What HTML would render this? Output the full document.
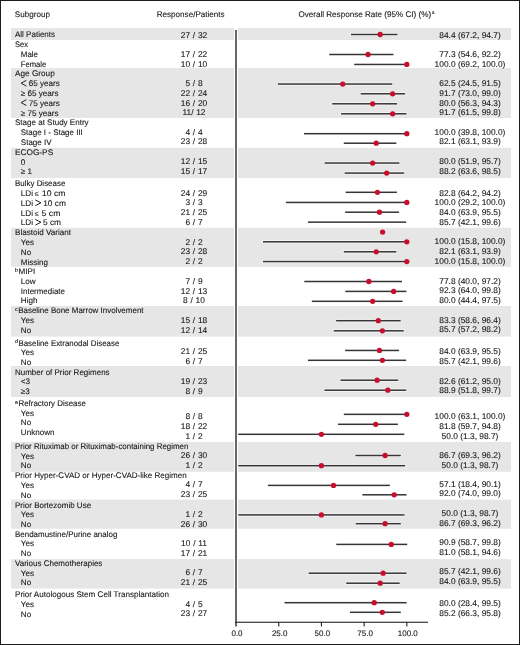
<!DOCTYPE html>
<html><head><meta charset="utf-8"><title>Forest plot</title>
<style>
html,body{margin:0;padding:0;background:#fff;}
body{width:520px;height:645px;overflow:hidden;}
svg{display:block;font-family:"Liberation Sans",sans-serif;text-rendering:geometricPrecision;}
</style></head><body>
<svg width="520" height="645" viewBox="0 0 520 645">
<defs><filter id="bl" x="0" y="0" width="1" height="1"><feGaussianBlur stdDeviation="0.4"/></filter></defs><g filter="url(#bl)">
<rect x="0" y="0" width="520" height="645" fill="#fff"/>
<style>text{stroke:#161616;stroke-width:0.1px;}</style>
<rect x="11" y="28" width="223" height="12.00" fill="#e6e6e6"/>
<rect x="238" y="28" width="273" height="12.00" fill="#e6e6e6"/>
<rect x="11" y="68.1" width="223" height="49.80" fill="#e6e6e6"/>
<rect x="238" y="68.1" width="273" height="49.80" fill="#e6e6e6"/>
<rect x="11" y="147.8" width="223" height="30.30" fill="#e6e6e6"/>
<rect x="238" y="147.8" width="273" height="30.30" fill="#e6e6e6"/>
<rect x="11" y="227.75" width="223" height="39.15" fill="#e6e6e6"/>
<rect x="238" y="227.75" width="273" height="39.15" fill="#e6e6e6"/>
<rect x="11" y="306" width="223" height="30.60" fill="#e6e6e6"/>
<rect x="238" y="306" width="273" height="30.60" fill="#e6e6e6"/>
<rect x="11" y="366" width="223" height="31.00" fill="#e6e6e6"/>
<rect x="238" y="366" width="273" height="31.00" fill="#e6e6e6"/>
<rect x="11" y="441.9" width="223" height="29.90" fill="#e6e6e6"/>
<rect x="238" y="441.9" width="273" height="29.90" fill="#e6e6e6"/>
<rect x="11" y="499.6" width="223" height="29.15" fill="#e6e6e6"/>
<rect x="238" y="499.6" width="273" height="29.15" fill="#e6e6e6"/>
<rect x="11" y="559.1" width="223" height="29.50" fill="#e6e6e6"/>
<rect x="238" y="559.1" width="273" height="29.50" fill="#e6e6e6"/>
<rect x="235" y="30" width="2" height="596.5" fill="#686868"/>
<rect x="235" y="621.7" width="193" height="1.1" fill="#262626"/>
<text x="237.00" y="636" font-size="8.0" text-anchor="middle" fill="#161616">0.0</text>
<rect x="278.20" y="622" width="1.1" height="4.5" fill="#222"/>
<text x="279.70" y="636" font-size="8.0" text-anchor="middle" fill="#161616">25.0</text>
<rect x="320.90" y="622" width="1.1" height="4.5" fill="#222"/>
<text x="322.40" y="636" font-size="8.0" text-anchor="middle" fill="#161616">50.0</text>
<rect x="363.60" y="622" width="1.1" height="4.5" fill="#222"/>
<text x="365.10" y="636" font-size="8.0" text-anchor="middle" fill="#161616">75.0</text>
<rect x="406.30" y="622" width="1.1" height="4.5" fill="#222"/>
<text x="407.80" y="636" font-size="8.0" text-anchor="middle" fill="#161616">100.0</text>
<text x="14.8" y="17" font-size="8.1" fill="#161616">Subgroup</text>
<text x="190.7" y="17.3" font-size="8.1" text-anchor="middle" fill="#161616">Response/Patients</text>
<text x="298.4" y="16.8" font-size="8.1" fill="#161616">Overall Response Rate (95% CI) (%)<tspan font-size="4.8" dy="-2.3" dx="0.6">a</tspan></text>
<text x="15.0" y="37.4" font-size="8.1" fill="#161616" textLength="40.05" lengthAdjust="spacingAndGlyphs">All Patients</text>
<text x="194.0" y="37.65" font-size="8.4" text-anchor="middle" fill="#161616" word-spacing="0.4">27 / 32</text>
<text x="470.0" y="37.5" font-size="8.4" text-anchor="middle" fill="#161616">84.4 (67.2, 94.7)</text>
<rect x="350.40" y="32.95" width="47.70" height="3.1" fill="#fff" opacity="0.7"/>
<rect x="351.00" y="33.75" width="46.50" height="1.5" fill="#353535"/>
<circle cx="380.16" cy="34.50" r="2.65" fill="#c8102e"/>
<text x="15.0" y="47.3" font-size="8.1" fill="#161616" textLength="12.95" lengthAdjust="spacingAndGlyphs">Sex</text>
<text x="20.8" y="56.9" font-size="8.1" fill="#161616" textLength="17.15" lengthAdjust="spacingAndGlyphs">Male</text>
<text x="194.0" y="57" font-size="8.4" text-anchor="middle" fill="#161616" word-spacing="0.4">17 / 22</text>
<text x="470.0" y="56.9" font-size="8.4" text-anchor="middle" fill="#161616">77.3 (54.6, 92.2)</text>
<rect x="328.66" y="52.95" width="65.42" height="3.1" fill="#fff" opacity="0.7"/>
<rect x="329.26" y="53.75" width="64.22" height="1.5" fill="#353535"/>
<circle cx="368.03" cy="54.50" r="2.65" fill="#c8102e"/>
<text x="20.8" y="66.6" font-size="8.1" fill="#161616" textLength="25.55" lengthAdjust="spacingAndGlyphs">Female</text>
<text x="194.0" y="66.6" font-size="8.4" text-anchor="middle" fill="#161616" word-spacing="0.4">10 / 10</text>
<text x="470.0" y="66.6" font-size="8.4" text-anchor="middle" fill="#161616">100.0 (69.2, 100.0)</text>
<rect x="353.59" y="62.90" width="53.81" height="3.1" fill="#fff" opacity="0.7"/>
<rect x="354.19" y="63.70" width="52.61" height="1.5" fill="#353535"/>
<circle cx="406.80" cy="64.45" r="2.65" fill="#c8102e"/>
<text x="15.0" y="76.2" font-size="8.1" fill="#161616" textLength="39.75" lengthAdjust="spacingAndGlyphs">Age Group</text>
<path d="M26.40,80.30 L21.10,83.20 L26.40,86.10" fill="none" stroke="#161616" stroke-width="0.95"/>
<text x="28.8" y="86.2" font-size="8.1" fill="#161616">65 years</text>
<text x="194.0" y="86.2" font-size="8.4" text-anchor="middle" fill="#161616" word-spacing="0.4">5 / 8</text>
<text x="470.0" y="86.25" font-size="8.4" text-anchor="middle" fill="#161616">62.5 (24.5, 91.5)</text>
<rect x="277.25" y="82.50" width="115.64" height="3.1" fill="#fff" opacity="0.7"/>
<rect x="277.85" y="83.30" width="114.44" height="1.5" fill="#353535"/>
<circle cx="342.75" cy="84.05" r="2.65" fill="#c8102e"/>
<text x="20.8" y="96" font-size="8.1" fill="#161616">≥ 65 years</text>
<text x="194.0" y="95.7" font-size="8.4" text-anchor="middle" fill="#161616" word-spacing="0.4">22 / 24</text>
<text x="470.0" y="96" font-size="8.4" text-anchor="middle" fill="#161616">91.7 (73.0, 99.0)</text>
<rect x="360.08" y="92.25" width="45.61" height="3.1" fill="#fff" opacity="0.7"/>
<rect x="360.68" y="93.05" width="44.41" height="1.5" fill="#353535"/>
<circle cx="392.62" cy="93.80" r="2.65" fill="#c8102e"/>
<path d="M26.40,99.70 L21.10,102.60 L26.40,105.50" fill="none" stroke="#161616" stroke-width="0.95"/>
<text x="28.8" y="105.6" font-size="8.1" fill="#161616">75 years</text>
<text x="194.0" y="105.6" font-size="8.4" text-anchor="middle" fill="#161616" word-spacing="0.4">16 / 20</text>
<text x="470.0" y="105.6" font-size="8.4" text-anchor="middle" fill="#161616">80.0 (56.3, 94.3)</text>
<rect x="331.56" y="102.25" width="66.10" height="3.1" fill="#fff" opacity="0.7"/>
<rect x="332.16" y="103.05" width="64.90" height="1.5" fill="#353535"/>
<circle cx="372.64" cy="103.80" r="2.65" fill="#c8102e"/>
<text x="20.8" y="115.5" font-size="8.1" fill="#161616">≥ 75 years</text>
<text x="194.0" y="115.25" font-size="8.4" text-anchor="middle" fill="#161616" word-spacing="0.4">11/ 12</text>
<text x="470.0" y="115.25" font-size="8.4" text-anchor="middle" fill="#161616">91.7 (61.5, 99.8)</text>
<rect x="340.44" y="112.25" width="66.62" height="3.1" fill="#fff" opacity="0.7"/>
<rect x="341.04" y="113.05" width="65.42" height="1.5" fill="#353535"/>
<circle cx="392.62" cy="113.80" r="2.65" fill="#c8102e"/>
<text x="15.0" y="125.4" font-size="8.1" fill="#161616" textLength="73.60" lengthAdjust="spacingAndGlyphs">Stage at Study Entry</text>
<text x="20.8" y="135.1" font-size="8.1" fill="#161616" textLength="62.05" lengthAdjust="spacingAndGlyphs">Stage I - Stage III</text>
<text x="194.0" y="134.75" font-size="8.4" text-anchor="middle" fill="#161616" word-spacing="0.4">4 / 4</text>
<text x="470.0" y="134.75" font-size="8.4" text-anchor="middle" fill="#161616">100.0 (39.8, 100.0)</text>
<rect x="303.38" y="132.15" width="104.02" height="3.1" fill="#fff" opacity="0.7"/>
<rect x="303.98" y="132.95" width="102.82" height="1.5" fill="#353535"/>
<circle cx="406.80" cy="133.70" r="2.65" fill="#c8102e"/>
<text x="20.8" y="144.7" font-size="8.1" fill="#161616" textLength="30.80" lengthAdjust="spacingAndGlyphs">Stage IV</text>
<text x="194.0" y="144.4" font-size="8.4" text-anchor="middle" fill="#161616" word-spacing="0.4">23 / 28</text>
<text x="470.0" y="144.4" font-size="8.4" text-anchor="middle" fill="#161616">82.1 (63.1, 93.9)</text>
<rect x="343.17" y="141.65" width="53.81" height="3.1" fill="#fff" opacity="0.7"/>
<rect x="343.77" y="142.45" width="52.61" height="1.5" fill="#353535"/>
<circle cx="376.23" cy="143.20" r="2.65" fill="#c8102e"/>
<text x="15.0" y="154.6" font-size="8.1" fill="#161616" textLength="38.15" lengthAdjust="spacingAndGlyphs">ECOG-PS</text>
<text x="20.8" y="164.5" font-size="8.1" fill="#161616">0</text>
<text x="194.0" y="163.9" font-size="8.4" text-anchor="middle" fill="#161616" word-spacing="0.4">12 / 15</text>
<text x="470.0" y="164.2" font-size="8.4" text-anchor="middle" fill="#161616">80.0 (51.9, 95.7)</text>
<rect x="324.05" y="161.50" width="76.01" height="3.1" fill="#fff" opacity="0.7"/>
<rect x="324.65" y="162.30" width="74.81" height="1.5" fill="#353535"/>
<circle cx="372.64" cy="163.05" r="2.65" fill="#c8102e"/>
<text x="20.8" y="174.2" font-size="8.1" fill="#161616">≥ 1</text>
<text x="194.0" y="173.8" font-size="8.4" text-anchor="middle" fill="#161616" word-spacing="0.4">15 / 17</text>
<text x="470.0" y="173.9" font-size="8.4" text-anchor="middle" fill="#161616">88.2 (63.6, 98.5)</text>
<rect x="344.03" y="171.55" width="60.81" height="3.1" fill="#fff" opacity="0.7"/>
<rect x="344.63" y="172.35" width="59.61" height="1.5" fill="#353535"/>
<circle cx="386.65" cy="173.10" r="2.65" fill="#c8102e"/>
<text x="15.0" y="186.4" font-size="8.1" fill="#161616" textLength="50.35" lengthAdjust="spacingAndGlyphs">Bulky Disease</text>
<text x="20.8" y="196.1" font-size="8.1" fill="#161616">LDi</text>
<text x="34.78" y="196.1" font-size="7" fill="#161616">≤</text>
<text x="41.9" y="196.1" font-size="8.1" fill="#161616" textLength="23.50" lengthAdjust="spacingAndGlyphs">10 cm</text>
<text x="194.0" y="195.9" font-size="8.4" text-anchor="middle" fill="#161616" word-spacing="0.4">24 / 29</text>
<text x="470.0" y="195.6" font-size="8.4" text-anchor="middle" fill="#161616">82.8 (64.2, 94.2)</text>
<rect x="345.05" y="190.75" width="52.44" height="3.1" fill="#fff" opacity="0.7"/>
<rect x="345.65" y="191.55" width="51.24" height="1.5" fill="#353535"/>
<circle cx="377.42" cy="192.30" r="2.65" fill="#c8102e"/>
<text x="20.8" y="205.8" font-size="8.1" fill="#161616">LDi</text>
<path d="M35.30,199.90 L40.90,202.80 L35.30,205.70" fill="none" stroke="#161616" stroke-width="0.95"/>
<text x="43.2" y="205.8" font-size="8.1" fill="#161616" textLength="22.70" lengthAdjust="spacingAndGlyphs">10 cm</text>
<text x="194.0" y="205.4" font-size="8.4" text-anchor="middle" fill="#161616" word-spacing="0.4">3 / 3</text>
<text x="470.0" y="205.4" font-size="8.4" text-anchor="middle" fill="#161616">100.0 (29.2, 100.0)</text>
<rect x="285.27" y="200.90" width="122.13" height="3.1" fill="#fff" opacity="0.7"/>
<rect x="285.87" y="201.70" width="120.93" height="1.5" fill="#353535"/>
<circle cx="406.80" cy="202.45" r="2.65" fill="#c8102e"/>
<text x="20.8" y="215.6" font-size="8.1" fill="#161616">LDi</text>
<text x="34.78" y="215.6" font-size="7" fill="#161616">≤</text>
<text x="41.5" y="215.6" font-size="8.1" fill="#161616" textLength="18.90" lengthAdjust="spacingAndGlyphs">5 cm</text>
<text x="194.0" y="215.4" font-size="8.4" text-anchor="middle" fill="#161616" word-spacing="0.4">21 / 25</text>
<text x="470.0" y="215" font-size="8.4" text-anchor="middle" fill="#161616">84.0 (63.9, 95.5)</text>
<rect x="344.54" y="210.65" width="55.17" height="3.1" fill="#fff" opacity="0.7"/>
<rect x="345.14" y="211.45" width="53.97" height="1.5" fill="#353535"/>
<circle cx="379.47" cy="212.20" r="2.65" fill="#c8102e"/>
<text x="20.8" y="225.25" font-size="8.1" fill="#161616">LDi</text>
<path d="M35.30,219.35 L40.90,222.25 L35.30,225.15" fill="none" stroke="#161616" stroke-width="0.95"/>
<text x="42.9" y="225.25" font-size="8.1" fill="#161616" textLength="18.20" lengthAdjust="spacingAndGlyphs">5 cm</text>
<text x="194.0" y="224.9" font-size="8.4" text-anchor="middle" fill="#161616" word-spacing="0.4">6 / 7</text>
<text x="470.0" y="224.75" font-size="8.4" text-anchor="middle" fill="#161616">85.7 (42.1, 99.6)</text>
<rect x="307.31" y="220.60" width="99.41" height="3.1" fill="#fff" opacity="0.7"/>
<rect x="307.91" y="221.40" width="98.21" height="1.5" fill="#353535"/>
<text x="15.0" y="235.2" font-size="8.1" fill="#161616" textLength="56.10" lengthAdjust="spacingAndGlyphs">Blastoid Variant</text>
<circle cx="382.6" cy="232.10" r="2.65" fill="#c8102e"/>
<text x="20.8" y="244.85" font-size="8.1" fill="#161616">Yes</text>
<text x="194.0" y="244.75" font-size="8.4" text-anchor="middle" fill="#161616" word-spacing="0.4">2 / 2</text>
<text x="470.0" y="244.4" font-size="8.4" text-anchor="middle" fill="#161616">100.0 (15.8, 100.0)</text>
<rect x="262.39" y="240.25" width="145.01" height="3.1" fill="#fff" opacity="0.7"/>
<rect x="262.99" y="241.05" width="143.81" height="1.5" fill="#353535"/>
<circle cx="406.80" cy="241.80" r="2.65" fill="#c8102e"/>
<text x="20.8" y="254.55" font-size="8.1" fill="#161616">No</text>
<text x="194.0" y="254.4" font-size="8.4" text-anchor="middle" fill="#161616" word-spacing="0.4">23 / 28</text>
<text x="470.0" y="254.1" font-size="8.4" text-anchor="middle" fill="#161616">82.1 (63.1, 93.9)</text>
<rect x="343.17" y="250.25" width="53.81" height="3.1" fill="#fff" opacity="0.7"/>
<rect x="343.77" y="251.05" width="52.61" height="1.5" fill="#353535"/>
<circle cx="376.23" cy="251.80" r="2.65" fill="#c8102e"/>
<text x="20.8" y="264.5" font-size="8.1" fill="#161616" textLength="27.05" lengthAdjust="spacingAndGlyphs">Missing</text>
<text x="194.0" y="264.3" font-size="8.4" text-anchor="middle" fill="#161616" word-spacing="0.4">2 / 2</text>
<text x="470.0" y="264.4" font-size="8.4" text-anchor="middle" fill="#161616">100.0 (15.8, 100.0)</text>
<rect x="262.39" y="260.00" width="145.01" height="3.1" fill="#fff" opacity="0.7"/>
<rect x="262.99" y="260.80" width="143.81" height="1.5" fill="#353535"/>
<circle cx="406.80" cy="261.55" r="2.65" fill="#c8102e"/>
<text x="15.0" y="274.2" font-size="8.1" fill="#161616"><tspan font-size="5.4" dy="-2.1" style="stroke-width:0.12px">b</tspan><tspan dy="2.1" dx="0.5">MIPI</tspan></text>
<text x="20.8" y="283.9" font-size="8.1" fill="#161616">Low</text>
<text x="194.0" y="283.8" font-size="8.4" text-anchor="middle" fill="#161616" word-spacing="0.4">7 / 9</text>
<text x="470.0" y="283.75" font-size="8.4" text-anchor="middle" fill="#161616">77.8 (40.0, 97.2)</text>
<rect x="303.72" y="279.95" width="98.90" height="3.1" fill="#fff" opacity="0.7"/>
<rect x="304.32" y="280.75" width="97.70" height="1.5" fill="#353535"/>
<circle cx="368.88" cy="281.50" r="2.65" fill="#c8102e"/>
<text x="20.8" y="293.7" font-size="8.1" fill="#161616" textLength="44.15" lengthAdjust="spacingAndGlyphs">Intermediate</text>
<text x="194.0" y="293.5" font-size="8.4" text-anchor="middle" fill="#161616" word-spacing="0.4">12 / 13</text>
<text x="470.0" y="293.4" font-size="8.4" text-anchor="middle" fill="#161616">92.3 (64.0, 99.8)</text>
<rect x="344.71" y="289.85" width="62.35" height="3.1" fill="#fff" opacity="0.7"/>
<rect x="345.31" y="290.65" width="61.15" height="1.5" fill="#353535"/>
<circle cx="393.65" cy="291.40" r="2.65" fill="#c8102e"/>
<text x="20.8" y="303.35" font-size="8.1" fill="#161616">High</text>
<text x="194.0" y="303.1" font-size="8.4" text-anchor="middle" fill="#161616" word-spacing="0.4">8 / 10</text>
<text x="470.0" y="303.1" font-size="8.4" text-anchor="middle" fill="#161616">80.0 (44.4, 97.5)</text>
<rect x="311.24" y="299.75" width="91.89" height="3.1" fill="#fff" opacity="0.7"/>
<rect x="311.84" y="300.55" width="90.69" height="1.5" fill="#353535"/>
<circle cx="372.64" cy="301.30" r="2.65" fill="#c8102e"/>
<text x="15.0" y="313.3" font-size="8.1" fill="#161616" textLength="128.55" lengthAdjust="spacingAndGlyphs"><tspan font-size="5.4" dy="-2.1" style="stroke-width:0.12px">c</tspan><tspan dy="2.1" dx="0.5">Baseline Bone Marrow Involvement</tspan></text>
<text x="20.8" y="323" font-size="8.1" fill="#161616">Yes</text>
<text x="194.0" y="322.6" font-size="8.4" text-anchor="middle" fill="#161616" word-spacing="0.4">15 / 18</text>
<text x="470.0" y="322.5" font-size="8.4" text-anchor="middle" fill="#161616">83.3 (58.6, 96.4)</text>
<rect x="335.49" y="319.15" width="65.76" height="3.1" fill="#fff" opacity="0.7"/>
<rect x="336.09" y="319.95" width="64.56" height="1.5" fill="#353535"/>
<circle cx="378.28" cy="320.70" r="2.65" fill="#c8102e"/>
<text x="20.8" y="333" font-size="8.1" fill="#161616">No</text>
<text x="194.0" y="332.5" font-size="8.4" text-anchor="middle" fill="#161616" word-spacing="0.4">12 / 14</text>
<text x="470.0" y="332.1" font-size="8.4" text-anchor="middle" fill="#161616">85.7 (57.2, 98.2)</text>
<rect x="333.10" y="329.25" width="71.23" height="3.1" fill="#fff" opacity="0.7"/>
<rect x="333.70" y="330.05" width="70.03" height="1.5" fill="#353535"/>
<circle cx="382.38" cy="330.80" r="2.65" fill="#c8102e"/>
<text x="15.0" y="345.5" font-size="8.1" fill="#161616" textLength="104.35" lengthAdjust="spacingAndGlyphs"><tspan font-size="5.4" dy="-2.1" style="stroke-width:0.12px">d</tspan><tspan dy="2.1" dx="0.5">Baseline Extranodal Disease</tspan></text>
<text x="20.8" y="355.1" font-size="8.1" fill="#161616">Yes</text>
<text x="194.0" y="354.4" font-size="8.4" text-anchor="middle" fill="#161616" word-spacing="0.4">21 / 25</text>
<text x="470.0" y="354" font-size="8.4" text-anchor="middle" fill="#161616">84.0 (63.9, 95.5)</text>
<rect x="344.54" y="348.90" width="55.17" height="3.1" fill="#fff" opacity="0.7"/>
<rect x="345.14" y="349.70" width="53.97" height="1.5" fill="#353535"/>
<circle cx="379.47" cy="350.45" r="2.65" fill="#c8102e"/>
<text x="20.8" y="364.7" font-size="8.1" fill="#161616">No</text>
<text x="194.0" y="364.1" font-size="8.4" text-anchor="middle" fill="#161616" word-spacing="0.4">6 / 7</text>
<text x="470.0" y="363.75" font-size="8.4" text-anchor="middle" fill="#161616">85.7 (42.1, 99.6)</text>
<rect x="307.31" y="358.75" width="99.41" height="3.1" fill="#fff" opacity="0.7"/>
<rect x="307.91" y="359.55" width="98.21" height="1.5" fill="#353535"/>
<circle cx="382.38" cy="360.30" r="2.65" fill="#c8102e"/>
<text x="15.0" y="374.6" font-size="8.1" fill="#161616" textLength="94.60" lengthAdjust="spacingAndGlyphs">Number of Prior Regimens</text>
<text x="20.8" y="384.3" font-size="8.1" fill="#161616">&lt;3</text>
<text x="194.0" y="384.2" font-size="8.4" text-anchor="middle" fill="#161616" word-spacing="0.4">19 / 23</text>
<text x="470.0" y="383.5" font-size="8.4" text-anchor="middle" fill="#161616">82.6 (61.2, 95.0)</text>
<rect x="339.93" y="378.65" width="58.93" height="3.1" fill="#fff" opacity="0.7"/>
<rect x="340.53" y="379.45" width="57.73" height="1.5" fill="#353535"/>
<circle cx="377.08" cy="380.20" r="2.65" fill="#c8102e"/>
<text x="20.8" y="394.1" font-size="8.1" fill="#161616">≥3</text>
<text x="194.0" y="393.9" font-size="8.4" text-anchor="middle" fill="#161616" word-spacing="0.4">8 / 9</text>
<text x="470.0" y="393.1" font-size="8.4" text-anchor="middle" fill="#161616">88.9 (51.8, 99.7)</text>
<rect x="323.87" y="388.65" width="83.01" height="3.1" fill="#fff" opacity="0.7"/>
<rect x="324.47" y="389.45" width="81.81" height="1.5" fill="#353535"/>
<circle cx="387.84" cy="390.20" r="2.65" fill="#c8102e"/>
<text x="15.0" y="405.6" font-size="8.1" fill="#161616" textLength="70.85" lengthAdjust="spacingAndGlyphs"><tspan font-size="5.4" dy="-2.1" style="stroke-width:0.12px">e</tspan><tspan dy="2.1" dx="0.5">Refractory Disease</tspan></text>
<text x="20.8" y="415.5" font-size="8.1" fill="#161616">Yes</text>
<text x="194.0" y="418.9" font-size="8.4" text-anchor="middle" fill="#161616" word-spacing="0.4">8 / 8</text>
<text x="470.0" y="419.4" font-size="8.4" text-anchor="middle" fill="#161616">100.0 (63.1, 100.0)</text>
<rect x="343.17" y="412.80" width="64.23" height="3.1" fill="#fff" opacity="0.7"/>
<rect x="343.77" y="413.60" width="63.03" height="1.5" fill="#353535"/>
<circle cx="406.80" cy="414.35" r="2.65" fill="#c8102e"/>
<text x="20.8" y="425.2" font-size="8.1" fill="#161616">No</text>
<text x="194.0" y="428.8" font-size="8.4" text-anchor="middle" fill="#161616" word-spacing="0.4">18 / 22</text>
<text x="470.0" y="429" font-size="8.4" text-anchor="middle" fill="#161616">81.8 (59.7, 94.8)</text>
<rect x="337.37" y="422.75" width="61.15" height="3.1" fill="#fff" opacity="0.7"/>
<rect x="337.97" y="423.55" width="59.95" height="1.5" fill="#353535"/>
<circle cx="375.71" cy="424.30" r="2.65" fill="#c8102e"/>
<text x="20.8" y="435" font-size="8.1" fill="#161616">Unknown</text>
<text x="194.0" y="438.5" font-size="8.4" text-anchor="middle" fill="#161616" word-spacing="0.4">1 / 2</text>
<text x="470.0" y="438.75" font-size="8.4" text-anchor="middle" fill="#161616">50.0 (1.3, 98.7)</text>
<rect x="237.62" y="432.75" width="167.28" height="3.1" fill="#fff" opacity="0.7"/>
<rect x="238.22" y="433.55" width="166.08" height="1.5" fill="#353535"/>
<circle cx="321.40" cy="434.30" r="2.65" fill="#c8102e"/>
<text x="15.0" y="448.75" font-size="8.1" fill="#161616" textLength="173.35" lengthAdjust="spacingAndGlyphs">Prior Rituximab or Rituximab-containing Regimen</text>
<text x="20.8" y="458.6" font-size="8.1" fill="#161616">Yes</text>
<text x="194.0" y="458.4" font-size="8.4" text-anchor="middle" fill="#161616" word-spacing="0.4">26 / 30</text>
<text x="470.0" y="458.1" font-size="8.4" text-anchor="middle" fill="#161616">86.7 (69.3, 96.2)</text>
<rect x="354.80" y="453.95" width="46.60" height="3.1" fill="#fff" opacity="0.7"/>
<rect x="355.40" y="454.75" width="45.40" height="1.5" fill="#353535"/>
<circle cx="385.10" cy="455.50" r="2.65" fill="#c8102e"/>
<text x="20.8" y="468.2" font-size="8.1" fill="#161616">No</text>
<text x="194.0" y="468" font-size="8.4" text-anchor="middle" fill="#161616" word-spacing="0.4">1 / 2</text>
<text x="470.0" y="467.5" font-size="8.4" text-anchor="middle" fill="#161616">50.0 (1.3, 98.7)</text>
<rect x="237.62" y="464.15" width="168.08" height="3.1" fill="#fff" opacity="0.7"/>
<rect x="238.22" y="464.95" width="166.88" height="1.5" fill="#353535"/>
<circle cx="321.40" cy="465.70" r="2.65" fill="#c8102e"/>
<text x="15.0" y="478" font-size="8.1" fill="#161616" textLength="171.75" lengthAdjust="spacingAndGlyphs">Prior Hyper-CVAD or Hyper-CVAD-like Regimen</text>
<text x="20.8" y="488" font-size="8.1" fill="#161616">Yes</text>
<text x="194.0" y="487.4" font-size="8.4" text-anchor="middle" fill="#161616" word-spacing="0.4">4 / 7</text>
<text x="470.0" y="486.9" font-size="8.4" text-anchor="middle" fill="#161616">57.1 (18.4, 90.1)</text>
<rect x="267.30" y="483.85" width="123.19" height="3.1" fill="#fff" opacity="0.7"/>
<rect x="267.90" y="484.65" width="121.99" height="1.5" fill="#353535"/>
<circle cx="333.53" cy="485.40" r="2.65" fill="#c8102e"/>
<text x="20.8" y="497.7" font-size="8.1" fill="#161616">No</text>
<text x="194.0" y="497.1" font-size="8.4" text-anchor="middle" fill="#161616" word-spacing="0.4">23 / 25</text>
<text x="470.0" y="496.25" font-size="8.4" text-anchor="middle" fill="#161616">92.0 (74.0, 99.0)</text>
<rect x="361.79" y="493.25" width="45.41" height="3.1" fill="#fff" opacity="0.7"/>
<rect x="362.39" y="494.05" width="44.21" height="1.5" fill="#353535"/>
<circle cx="394.20" cy="494.80" r="2.65" fill="#c8102e"/>
<text x="15.0" y="507.5" font-size="8.1" fill="#161616" textLength="76.10" lengthAdjust="spacingAndGlyphs">Prior Bortezomib Use</text>
<text x="20.8" y="517.1" font-size="8.1" fill="#161616">Yes</text>
<text x="194.0" y="517" font-size="8.4" text-anchor="middle" fill="#161616" word-spacing="0.4">1 / 2</text>
<text x="470.0" y="516" font-size="8.4" text-anchor="middle" fill="#161616">50.0 (1.3, 98.7)</text>
<rect x="237.62" y="513.35" width="167.56" height="3.1" fill="#fff" opacity="0.7"/>
<rect x="238.22" y="514.15" width="166.36" height="1.5" fill="#353535"/>
<circle cx="321.40" cy="514.90" r="2.65" fill="#c8102e"/>
<text x="20.8" y="526.8" font-size="8.1" fill="#161616">No</text>
<text x="194.0" y="526.5" font-size="8.4" text-anchor="middle" fill="#161616" word-spacing="0.4">26 / 30</text>
<text x="470.0" y="525.6" font-size="8.4" text-anchor="middle" fill="#161616">86.7 (69.3, 96.2)</text>
<rect x="355.10" y="522.15" width="46.30" height="3.1" fill="#fff" opacity="0.7"/>
<rect x="355.70" y="522.95" width="45.10" height="1.5" fill="#353535"/>
<circle cx="385.10" cy="523.70" r="2.65" fill="#c8102e"/>
<text x="15.0" y="536.6" font-size="8.1" fill="#161616" textLength="102.35" lengthAdjust="spacingAndGlyphs">Bendamustine/Purine analog</text>
<text x="20.8" y="546.3" font-size="8.1" fill="#161616">Yes</text>
<text x="194.0" y="546" font-size="8.4" text-anchor="middle" fill="#161616" word-spacing="0.4">10 / 11</text>
<text x="470.0" y="545" font-size="8.4" text-anchor="middle" fill="#161616">90.9 (58.7, 99.8)</text>
<rect x="335.66" y="542.85" width="72.14" height="3.1" fill="#fff" opacity="0.7"/>
<rect x="336.26" y="543.65" width="70.94" height="1.5" fill="#353535"/>
<circle cx="391.26" cy="544.40" r="2.65" fill="#c8102e"/>
<text x="20.8" y="556.4" font-size="8.1" fill="#161616">No</text>
<text x="194.0" y="555.85" font-size="8.4" text-anchor="middle" fill="#161616" word-spacing="0.4">17 / 21</text>
<text x="470.0" y="554.7" font-size="8.4" text-anchor="middle" fill="#161616">81.0 (58.1, 94.6)</text>
<text x="15.0" y="566.1" font-size="8.1" fill="#161616" textLength="87.35" lengthAdjust="spacingAndGlyphs">Various Chemotherapies</text>
<text x="20.8" y="575.8" font-size="8.1" fill="#161616">Yes</text>
<text x="194.0" y="575.4" font-size="8.4" text-anchor="middle" fill="#161616" word-spacing="0.4">6 / 7</text>
<text x="470.0" y="574.4" font-size="8.4" text-anchor="middle" fill="#161616">85.7 (42.1, 99.6)</text>
<rect x="308.00" y="571.65" width="99.20" height="3.1" fill="#fff" opacity="0.7"/>
<rect x="308.60" y="572.45" width="98.00" height="1.5" fill="#353535"/>
<circle cx="383.10" cy="573.20" r="2.65" fill="#c8102e"/>
<text x="20.8" y="585.3" font-size="8.1" fill="#161616">No</text>
<text x="194.0" y="585.4" font-size="8.4" text-anchor="middle" fill="#161616" word-spacing="0.4">21 / 25</text>
<text x="470.0" y="584" font-size="8.4" text-anchor="middle" fill="#161616">84.0 (63.9, 95.5)</text>
<rect x="345.60" y="581.65" width="54.70" height="3.1" fill="#fff" opacity="0.7"/>
<rect x="346.20" y="582.45" width="53.50" height="1.5" fill="#353535"/>
<circle cx="380.20" cy="583.20" r="2.65" fill="#c8102e"/>
<text x="15.0" y="597.4" font-size="8.1" fill="#161616" textLength="153.95" lengthAdjust="spacingAndGlyphs">Prior Autologous Stem Cell Transplantation</text>
<text x="20.8" y="607" font-size="8.1" fill="#161616">Yes</text>
<text x="194.0" y="606.5" font-size="8.4" text-anchor="middle" fill="#161616" word-spacing="0.4">4 / 5</text>
<text x="470.0" y="606.25" font-size="8.4" text-anchor="middle" fill="#161616">80.0 (28.4, 99.5)</text>
<rect x="283.91" y="601.15" width="123.29" height="3.1" fill="#fff" opacity="0.7"/>
<rect x="284.51" y="601.95" width="122.09" height="1.5" fill="#353535"/>
<circle cx="374.20" cy="602.70" r="2.65" fill="#c8102e"/>
<text x="20.8" y="616.7" font-size="8.1" fill="#161616">No</text>
<text x="194.0" y="616.4" font-size="8.4" text-anchor="middle" fill="#161616" word-spacing="0.4">23 / 27</text>
<text x="470.0" y="616" font-size="8.4" text-anchor="middle" fill="#161616">85.2 (66.3, 95.8)</text>
<rect x="349.40" y="610.75" width="52.00" height="3.1" fill="#fff" opacity="0.7"/>
<rect x="350.00" y="611.55" width="50.80" height="1.5" fill="#353535"/>
<circle cx="382.30" cy="612.30" r="2.65" fill="#c8102e"/>
<rect x="0.5" y="0.5" width="519" height="644" fill="none" stroke="#1a1a1a" stroke-width="1"/>
</g></svg>
</body></html>
